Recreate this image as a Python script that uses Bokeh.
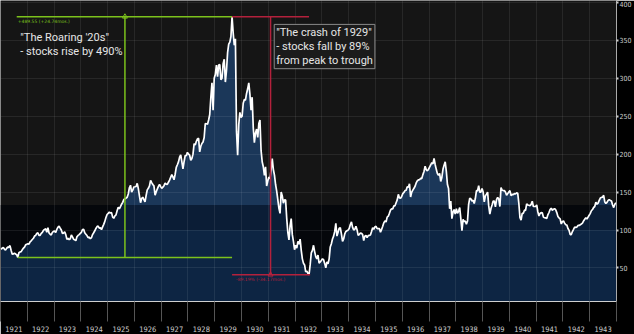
import numpy as np
from bokeh.plotting import figure
from bokeh.models import Range1d, FixedTicker, Label, BoxAnnotation, CustomJSTickFormatter
from bokeh.embed import file_html
from bokeh.resources import INLINE

# Dow Jones Industrial Average, two readings per month (mid-month, month-end)
years = [1921, 1922, 1923, 1924, 1925, 1926, 1927, 1928, 1929, 1930, 1931, 1932,
         1933, 1934, 1935, 1936, 1937, 1938, 1939, 1940, 1941, 1942, 1943]
djia_1921 = [74.5, 76.1, 77.0, 74.9, 73.5, 75.8, 77.5, 77.2, 79.5, 73.4, 68.0, 68.5,
             69.5, 68.4, 67.5, 63.9, 70.0, 71.1, 71.5, 73.9, 76.0, 77.3, 80.5, 81.1]
djia_1922 = [82.0, 81.3, 84.5, 85.8, 87.5, 89.1, 92.0, 92.9, 95.5, 96.4, 93.0, 92.9,
             95.5, 97.0, 99.5, 100.8, 101.5, 97.0, 103.0, 96.1, 94.5, 93.4, 97.0, 98.2]
djia_1923 = [98.5, 96.8, 101.0, 103.9, 105.0, 102.4, 100.0, 95.6, 96.0, 97.7, 94.0, 87.9,
             89.0, 87.3, 88.5, 93.5, 91.0, 87.9, 87.0, 86.0, 91.0, 92.9, 94.0, 95.5]
djia_1924 = [97.0, 100.7, 101.0, 96.3, 94.5, 92.7, 90.0, 90.6, 88.5, 89.9, 94.0, 96.4,
             99.0, 102.1, 104.5, 105.2, 102.5, 103.0, 100.5, 104.1, 107.5, 111.4, 116.5, 120.5]
djia_1925 = [122.0, 123.6, 122.5, 122.9, 117.0, 115.5, 118.5, 120.0, 125.5, 129.9, 128.0, 131.0,
             134.0, 136.5, 140.0, 141.2, 142.0, 143.2, 147.5, 155.7, 159.0, 150.0, 152.5, 156.7]
djia_1926 = [157.0, 157.4, 161.5, 154.7, 145.0, 136.0, 141.5, 143.3, 140.0, 137.2, 145.5, 152.9,
             155.0, 158.1, 165.5, 162.5, 160.0, 158.2, 146.0, 150.3, 154.0, 157.5, 160.0, 157.2]
djia_1927 = [155.0, 156.4, 158.5, 161.9, 160.5, 160.1, 163.0, 165.7, 169.5, 172.9, 170.0, 166.2,
             173.5, 182.6, 186.0, 189.8, 196.0, 199.0, 190.0, 180.5, 190.0, 198.2, 198.0, 202.4]
djia_1928 = [200.0, 198.6, 192.0, 194.3, 200.0, 213.8, 212.0, 216.9, 220.0, 220.9, 203.0, 210.4,
             214.0, 216.0, 222.0, 240.4, 240.0, 239.4, 245.0, 252.2, 275.0, 294.0, 258.0, 300.0]
djia_1929 = [305.0, 317.5, 302.0, 317.4, 318.0, 298.0, 300.0, 319.3, 325.0, 295.0, 310.0, 333.8,
             345.0, 347.7, 355.0, 381.2, 360.0, 343.5, 352.0, 230.0, 198.7, 238.9, 255.0, 248.5]
djia_1930 = [250.0, 267.1, 272.0, 271.1, 280.0, 286.1, 294.0, 279.2, 258.0, 275.1, 235.0, 215.0,
             228.0, 233.0, 222.0, 240.4, 245.0, 204.9, 190.0, 183.4, 172.0, 183.4, 158.0, 164.6]
djia_1931 = [170.0, 167.6, 180.0, 194.0, 180.0, 172.4, 160.0, 151.2, 140.0, 128.5, 122.0, 150.2,
             145.0, 135.4, 140.0, 139.4, 115.0, 96.6, 87.0, 105.4, 115.0, 93.9, 85.0, 74.0]
djia_1932 = [80.0, 76.2, 85.0, 81.4, 88.0, 73.3, 62.0, 56.1, 54.0, 44.7, 46.0, 42.8,
             41.2, 54.3, 70.0, 73.2, 79.9, 71.6, 65.0, 61.9, 67.0, 56.4, 58.0, 59.9]
djia_1933 = [62.0, 60.9, 56.0, 50.2, 58.0, 55.4, 62.0, 77.7, 82.0, 88.1, 92.0, 98.1,
             108.7, 92.0, 97.0, 102.4, 103.0, 94.8, 85.0, 88.2, 95.0, 98.1, 99.0, 99.9]
djia_1934 = [102.0, 107.2, 110.7, 103.5, 100.0, 101.0, 105.0, 100.5, 93.0, 94.0, 96.0, 95.7,
             94.0, 86.0, 92.0, 93.0, 90.0, 92.6, 93.0, 93.4, 98.0, 102.9, 101.0, 104.0]
djia_1935 = [105.0, 101.7, 102.0, 101.9, 97.0, 100.8, 105.0, 109.5, 112.0, 110.6, 117.0, 118.2,
             122.0, 126.2, 128.0, 127.9, 132.0, 131.9, 136.0, 139.7, 147.0, 142.3, 142.0, 144.1]
djia_1936 = [148.0, 149.5, 152.0, 152.5, 157.0, 156.3, 161.0, 143.5, 150.0, 152.6, 155.0, 157.7,
             162.0, 164.9, 166.0, 166.3, 168.0, 167.8, 173.0, 177.2, 184.0, 179.6, 178.0, 179.9]
djia_1937 = [183.0, 185.7, 189.0, 187.2, 194.4, 186.4, 180.0, 174.3, 172.0, 174.7, 164.0, 169.3,
             180.0, 185.5, 190.0, 177.4, 160.0, 154.6, 128.0, 138.2, 115.0, 123.5, 127.0, 121.0]
djia_1938 = [128.0, 121.9, 125.0, 129.6, 115.0, 99.0, 114.0, 111.2, 112.0, 107.7, 112.0, 133.9,
             142.0, 141.2, 138.0, 139.3, 135.0, 141.5, 152.0, 151.7, 158.4, 149.8, 150.0, 154.8]
djia_1939 = [150.0, 137.0, 145.0, 147.3, 150.0, 131.8, 121.0, 128.4, 133.0, 138.2, 138.0, 130.6,
             140.0, 143.0, 141.0, 131.0, 155.9, 152.5, 152.0, 151.9, 150.0, 145.7, 148.0, 150.2]
djia_1940 = [152.0, 145.3, 147.0, 146.5, 148.0, 147.5, 149.0, 148.4, 135.0, 116.2, 113.0, 121.9,
             122.0, 126.1, 126.0, 134.4, 133.0, 132.6, 132.0, 133.8, 138.0, 131.0, 131.0, 131.1]
djia_1941 = [133.0, 124.1, 118.5, 121.8, 123.0, 122.7, 117.0, 116.2, 116.0, 115.3, 120.0, 123.1,
             127.0, 128.8, 126.0, 127.4, 128.0, 126.8, 123.0, 117.8, 116.0, 114.7, 108.0, 111.0]
djia_1942 = [112.0, 109.1, 107.0, 106.6, 102.0, 99.5, 94.0, 94.0, 98.0, 100.9, 104.0, 103.3,
             104.0, 106.1, 106.0, 107.0, 108.0, 109.1, 112.0, 114.1, 116.0, 114.5, 117.0, 119.4]
djia_1943 = [122.0, 125.4, 127.0, 129.7, 131.0, 136.6, 134.0, 135.5, 139.0, 142.1, 143.0, 143.4,
             145.8, 137.0, 135.0, 136.5, 139.0, 140.1, 139.0, 138.3, 133.0, 129.6, 134.0, 135.9]
y_ticks = [50, 100, 150, 200, 250, 300, 350, 400]

series = [djia_1921, djia_1922, djia_1923, djia_1924, djia_1925, djia_1926, djia_1927, djia_1928,
          djia_1929, djia_1930, djia_1931, djia_1932, djia_1933, djia_1934, djia_1935, djia_1936,
          djia_1937, djia_1938, djia_1939, djia_1940, djia_1941, djia_1942, djia_1943]

v = np.concatenate([np.array(s, dtype=float) for s in series])
x = np.array([yr + (k + 0.5) / 24.0 for yr in years for k in range(24)])

Y0 = 5.8
p = figure(width=634, height=334, x_range=Range1d(1921, 1944), y_range=Range1d(Y0, 402.5),
           y_axis_location="right", output_backend="svg", toolbar_location=None,
           min_border_left=0, min_border_top=0, min_border_right=15, min_border_bottom=20,
           background_fill_color="#151515", border_fill_color="#000000")
p.outline_line_color = None
p.grid.visible = False

p.add_layout(BoxAnnotation(bottom=Y0, top=133, fill_color="#05070b", fill_alpha=1.0,
                           line_color=None, level="underlay"))

# area fill in bands
p.varea(x=x, y1=Y0, y2=v, fill_color="#1b3759")
p.varea(x=x, y1=Y0, y2=np.minimum(v, 133), fill_color="#0b1d36")
p.varea(x=x, y1=Y0, y2=np.minimum(v, 100), fill_color="#0d2543")

# grid
p.vspan(x=years[1:], line_color="#ffffff", line_alpha=0.08, line_width=1)
p.hspan(y=y_ticks, line_color="#ffffff", line_alpha=0.08, line_width=1)

p.line(x=x, y=v, line_color="#ffffff", line_width=1.7)

# peak / trough annotations
i_peak = int(np.argmax(v))
i_low = int(np.argmin(v[:i_peak]))
i_trough = i_peak + int(np.argmin(v[i_peak:]))
x_low, x_peak, x_trough = x[i_low], x[i_peak], x[i_trough]
v_low, v_peak, v_trough = v[i_low], v[i_peak], v[i_trough]
g_mid = (x_low + x_peak) / 2
r_mid = (x_peak + x_trough) / 2

green = "#7cc21c"
red = "#b3213c"
p.segment(x0=[x_low - 0.04, x_low, g_mid], y0=[v_peak, v_low, v_low],
          x1=[x_peak, x_peak, g_mid], y1=[v_peak, v_low, v_peak],
          line_color=green, line_width=1.5)
p.segment(x0=[x_peak, x_peak, r_mid], y0=[v_peak, v_trough, v_trough],
          x1=[x_trough, x_trough + 0.04, r_mid], y1=[v_peak, v_trough, v_peak],
          line_color=red, line_width=1.5)
p.scatter(x=[g_mid], y=[v_peak], marker="triangle", size=5, fill_color=None, line_color=green)
p.scatter(x=[r_mid], y=[v_trough], marker="triangle", size=5, fill_color=None, line_color=red)

p.add_layout(Label(x=x_low, y=v_peak, text="+489.55 (+24.74mos.)", text_font_size="4.5px",
                   text_color=green, text_baseline="top", y_offset=-2, text_font="DejaVu Sans"))
p.add_layout(Label(x=x_peak, y=v_trough, text="-89.19% (-34.17mos.)", text_font_size="4.5px",
                   text_color=red, text_baseline="top", x_offset=4, y_offset=-2, text_font="DejaVu Sans"))

p.add_layout(Label(x=1921.74, y=362, text="\"The Roaring '20s\"\n- stocks rise by 490%",
                   text_font="Roboto", text_font_size="11px", text_color="#e6e6e6",
                   text_baseline="top", text_align="left", text_line_height=1.05))
p.add_layout(Label(x=1931.22, y=371, text="\"The crash of 1929\"\n- stocks fall by 89%\nfrom peak to trough",
                   text_font="Roboto", text_font_size="11px", text_color="#e6e6e6",
                   text_baseline="top", text_align="left", text_line_height=1.05,
                   border_line_color="#8a8a8a", border_line_width=1,
                   background_fill_color="#1b1b1b", background_fill_alpha=1.0, padding=2))

# x axis: labels centred in year cells, separators at boundaries
xa = p.xaxis[0]
xa.ticker = FixedTicker(ticks=[yr + 0.5 for yr in years], minor_ticks=years + [1944])
xa.formatter = CustomJSTickFormatter(code="return String(Math.floor(tick));")
xa.major_tick_out = 0
xa.major_tick_in = 0
xa.minor_tick_out = 20
xa.minor_tick_in = 0
xa.minor_tick_line_color = "#555555"
xa.axis_line_color = "#cfcfcf"
xa.major_label_text_color = "#cfcfcf"
xa.major_label_text_font = "DejaVu Sans Condensed"
xa.major_label_text_font_size = "7.5px"
xa.major_label_standoff = 4

ya = p.yaxis[0]
ya.ticker = FixedTicker(ticks=y_ticks)
ya.major_tick_out = 2
ya.major_tick_in = 0
ya.minor_tick_out = 0
ya.minor_tick_in = 0
ya.major_tick_line_color = "#cccccc"
ya.major_tick_line_width = 2
ya.axis_line_color = "#aaaaaa"
ya.major_label_text_color = "#cfcfcf"
ya.major_label_text_font = "DejaVu Sans Condensed"
ya.major_label_text_font_size = "7px"
ya.major_label_standoff = 1

open("out.html", "w").write(file_html(p, INLINE))
